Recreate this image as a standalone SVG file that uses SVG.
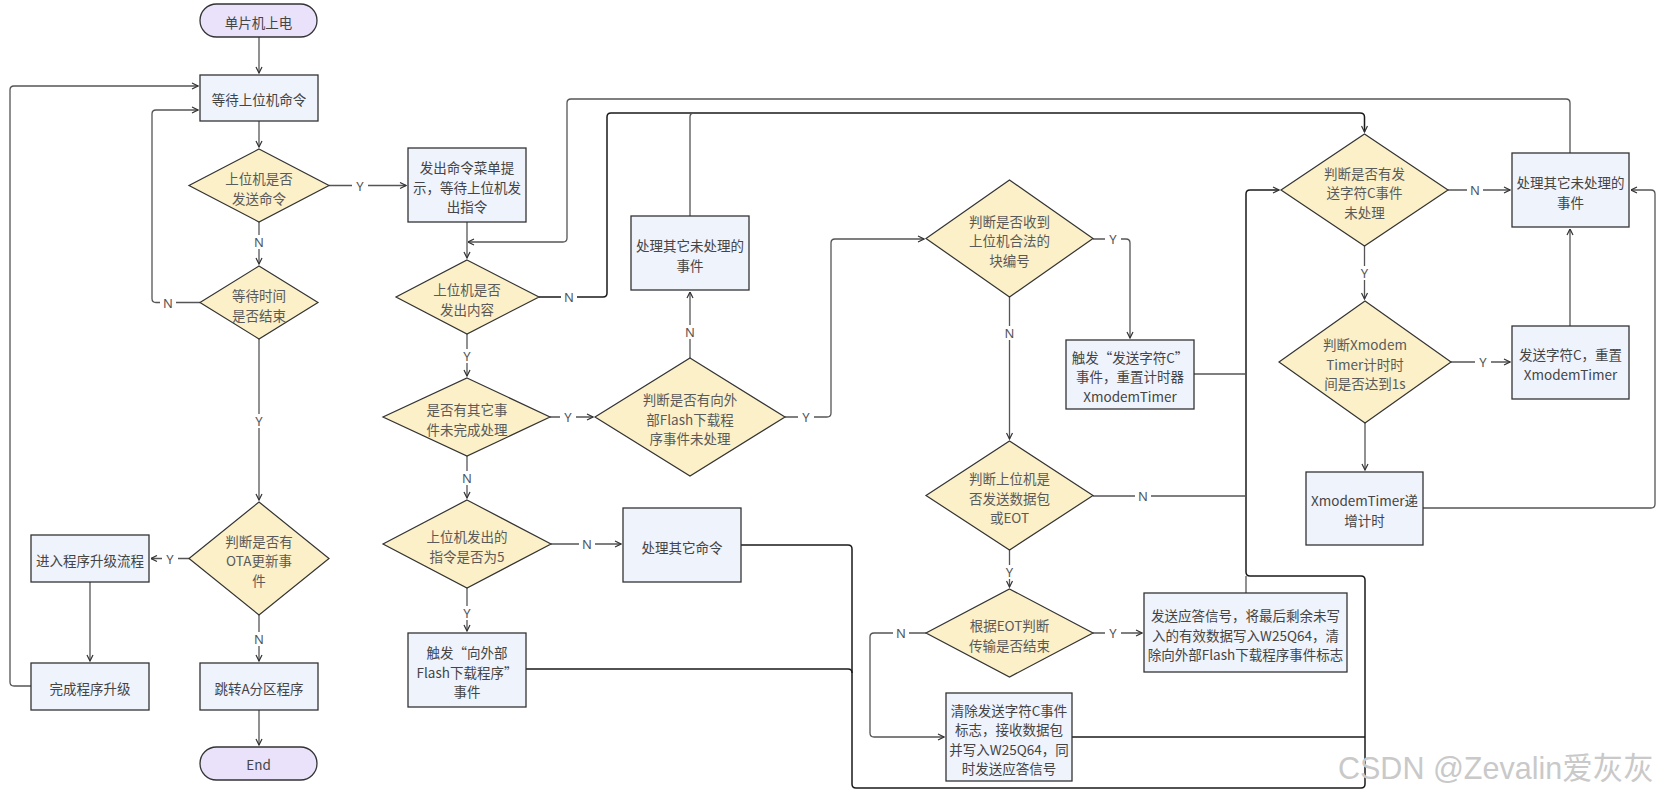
<svg xmlns="http://www.w3.org/2000/svg" width="1664" height="799" viewBox="0 0 1664 799">
<defs>
<style>
.box{fill:#eff3fc;stroke:#333;stroke-width:1.3}
.dia{fill:#fbf0c8;stroke:#333;stroke-width:1.2}
.pill{fill:#e9e2fa;stroke:#333;stroke-width:1.3}
.t{font-family:"Noto Sans CJK SC","Noto Sans",sans-serif;font-size:13.5px;fill:#444;text-anchor:middle;dominant-baseline:central}
.dt{fill:#5a5a5a}
.c{fill:none;stroke:#555;stroke-width:1.3}
.k{fill:none;stroke:#1a1a1a;stroke-width:1.5}
.lb rect{fill:#fff}
.lb text{font-family:"Noto Sans","Noto Sans CJK SC",sans-serif;font-size:13px;fill:#555;text-anchor:middle;dominant-baseline:central}
.wm{font-family:"Liberation Sans","Noto Sans CJK SC",sans-serif;font-size:30.5px;fill:#c9c9c9}
</style>
<marker id="a" viewBox="0 0 8 8" refX="7.5" refY="4" markerWidth="8" markerHeight="8" markerUnits="userSpaceOnUse" orient="auto">
<path d="M1.5,1 L7.5,4 L1.5,7" fill="none" stroke="#333" stroke-width="1.2"/>
</marker>
</defs>
<rect width="1664" height="799" fill="#fff"/>

<g id="connectors">
<path class="c" d="M259,37 V73" marker-end="url(#a)"/>
<path class="c" d="M259,121 V147" marker-end="url(#a)"/>
<path class="c" d="M329,185.5 H406" marker-end="url(#a)"/>
<path class="c" d="M259,222 V264" marker-end="url(#a)"/>
<path class="c" d="M200,302.5 H156 Q152,302.5 152,298.5 V114 Q152,110 156,110 H198" marker-end="url(#a)"/>
<path class="c" d="M259,339 V500" marker-end="url(#a)"/>
<path class="c" d="M189,558.5 H151" marker-end="url(#a)"/>
<path class="c" d="M90,582 V661" marker-end="url(#a)"/>
<path class="c" d="M31,686 H14 Q10,686 10,682 V90 Q10,86 14,86 H198" marker-end="url(#a)"/>
<path class="c" d="M259,615 V661" marker-end="url(#a)"/>
<path class="c" d="M259,710 V745" marker-end="url(#a)"/>
<path class="c" d="M467,222 V258" marker-end="url(#a)"/>
<path class="c" d="M1570,153 V103 Q1570,99 1566,99 H571 Q567,99 567,103 V238 Q567,242 563,242 H468" marker-end="url(#a)"/>
<path class="k" d="M539,297 H603 Q607,297 607,293 V117 Q607,113 611,113 H1360 Q1364.5,113 1364.5,117 V132" marker-end="url(#a)"/>
<path class="c" d="M690,216 V117 Q690,113 694,113"/>
<path class="c" d="M467,334 V376" marker-end="url(#a)"/>
<path class="c" d="M550,417 H593" marker-end="url(#a)"/>
<path class="c" d="M467,456 V498" marker-end="url(#a)"/>
<path class="c" d="M690,358 V292" marker-end="url(#a)"/>
<path class="c" d="M785,417 H827 Q831,417 831,413 V243 Q831,239 835,239 H924" marker-end="url(#a)"/>
<path class="c" d="M551,544 H621" marker-end="url(#a)"/>
<path class="c" d="M467,588 V631" marker-end="url(#a)"/>
<path class="k" d="M741,545 H848 Q852,545 852,549 V784 Q852,788 856,788 H1361 Q1365,788 1365,784 V580 Q1365,576 1361,576 H1250 Q1246,576 1246,572 V194 Q1246,190 1250,190 H1279" marker-end="url(#a)"/>
<path class="k" d="M526,669 H848 Q852,669 852,673"/>
<path class="k" d="M1072,737 H1365"/>
<path class="c" d="M1246,593 V576"/>
<path class="c" d="M1194,374 H1246"/>
<path class="c" d="M1093,496 H1246"/>
<path class="c" d="M1093,239 H1126 Q1130,239 1130,243 V338" marker-end="url(#a)"/>
<path class="c" d="M1009.5,297 V439" marker-end="url(#a)"/>
<path class="c" d="M1009.5,550 V587" marker-end="url(#a)"/>
<path class="c" d="M1093,633 H1142" marker-end="url(#a)"/>
<path class="c" d="M926,633 H874 Q870,633 870,637 V733 Q870,737 874,737 H944" marker-end="url(#a)"/>
<path class="c" d="M1448,190 H1510" marker-end="url(#a)"/>
<path class="c" d="M1364.5,246 V299" marker-end="url(#a)"/>
<path class="c" d="M1451,362 H1510" marker-end="url(#a)"/>
<path class="c" d="M1570,326 V229" marker-end="url(#a)"/>
<path class="c" d="M1365,423 V470" marker-end="url(#a)"/>
<path class="c" d="M1423,508 H1651 Q1655,508 1655,504 V194 Q1655,190 1651,190 H1631" marker-end="url(#a)"/>

<g class="lb">
<rect x="352" y="178.5" width="16" height="14"/><text x="360" y="185.5">Y</text>
<rect x="251" y="235" width="16" height="14"/><text x="259" y="242">N</text>
<rect x="160" y="295.5" width="16" height="14"/><text x="168" y="302.5">N</text>
<rect x="251" y="414" width="16" height="14"/><text x="259" y="421">Y</text>
<rect x="162" y="551.5" width="16" height="14"/><text x="170" y="558.5">Y</text>
<rect x="251" y="632" width="16" height="14"/><text x="259" y="639">N</text>
<rect x="561" y="290" width="16" height="14"/><text x="569" y="297">N</text>
<rect x="459" y="349" width="16" height="14"/><text x="467" y="356">Y</text>
<rect x="560" y="410" width="16" height="14"/><text x="568" y="417">Y</text>
<rect x="459" y="471" width="16" height="14"/><text x="467" y="478">N</text>
<rect x="682" y="325" width="16" height="14"/><text x="690" y="332">N</text>
<rect x="798" y="410" width="16" height="14"/><text x="806" y="417">Y</text>
<rect x="579" y="537" width="16" height="14"/><text x="587" y="544">N</text>
<rect x="459" y="606" width="16" height="14"/><text x="467" y="613">Y</text>
<rect x="1105" y="232" width="16" height="14"/><text x="1113" y="239">Y</text>
<rect x="1001.5" y="326" width="16" height="14"/><text x="1009.5" y="333">N</text>
<rect x="1135" y="489" width="16" height="14"/><text x="1143" y="496">N</text>
<rect x="1001.5" y="565" width="16" height="14"/><text x="1009.5" y="572">Y</text>
<rect x="1105" y="626" width="16" height="14"/><text x="1113" y="633">Y</text>
<rect x="893" y="626" width="16" height="14"/><text x="901" y="633">N</text>
<rect x="1467" y="183" width="16" height="14"/><text x="1475" y="190">N</text>
<rect x="1356.5" y="266" width="16" height="14"/><text x="1364.5" y="273">Y</text>
<rect x="1475" y="355" width="16" height="14"/><text x="1483" y="362">Y</text>
</g>
</g>

<g id="n1"><rect class="pill" x="200" y="4" width="117" height="33" rx="16.5"/><text class="t" x="258.5" y="21.5">单片机上电</text></g>
<g id="n2"><rect class="box" x="200" y="75" width="118" height="46"/><text class="t" x="259" y="99">等待上位机命令</text></g>
<g id="n3"><polygon class="dia" points="259,149 329,185.5 259,222 189,185.5"/><text class="t dt" x="259" y="178">上位机是否</text><text class="t dt" x="259" y="197.5">发送命令</text></g>
<g id="n4"><polygon class="dia" points="259,266 318,302.5 259,339 200,302.5"/><text class="t dt" x="259" y="295">等待时间</text><text class="t dt" x="259" y="314.5">是否结束</text></g>
<g id="n5"><polygon class="dia" points="259,502 329,558.5 259,615 189,558.5"/><text class="t dt" x="259" y="540.5">判断是否有</text><text class="t dt" x="259" y="560">OTA更新事</text><text class="t dt" x="259" y="579.5">件</text></g>
<g id="n6"><rect class="box" x="31" y="535" width="118" height="47"/><text class="t" x="90" y="559.5">进入程序升级流程</text></g>
<g id="n7"><rect class="box" x="31" y="663" width="118" height="47"/><text class="t" x="90" y="687.5">完成程序升级</text></g>
<g id="n8"><rect class="box" x="200" y="663" width="118" height="47"/><text class="t" x="259" y="687.5">跳转A分区程序</text></g>
<g id="n9"><rect class="pill" x="200" y="747" width="117" height="33" rx="16.5"/><text class="t" x="258.5" y="764">End</text></g>
<g id="n10"><rect class="box" x="408" y="148" width="118" height="74"/><text class="t" x="467" y="167">发出命令菜单提</text><text class="t" x="467" y="186.5">示，等待上位机发</text><text class="t" x="467" y="206">出指令</text></g>
<g id="n11"><polygon class="dia" points="467,260 539,297 467,334 396,297"/><text class="t dt" x="467" y="289">上位机是否</text><text class="t dt" x="467" y="308.5">发出内容</text></g>
<g id="n12"><polygon class="dia" points="467,378 550,417 467,456 383,417"/><text class="t dt" x="467" y="409">是否有其它事</text><text class="t dt" x="467" y="428.5">件未完成处理</text></g>
<g id="n13"><polygon class="dia" points="467,500 551,544 467,588 383,544"/><text class="t dt" x="467" y="536">上位机发出的</text><text class="t dt" x="467" y="555.5">指令是否为5</text></g>
<g id="n14"><rect class="box" x="408" y="633" width="118" height="74"/><text class="t" x="467" y="652">触发“向外部</text><text class="t" x="467" y="671.5">Flash下载程序”</text><text class="t" x="467" y="691">事件</text></g>
<g id="n15"><rect class="box" x="631" y="216" width="118" height="74"/><text class="t" x="690" y="245">处理其它未处理的</text><text class="t" x="690" y="264.5">事件</text></g>
<g id="n16"><polygon class="dia" points="690,358 785,417 690,476 595,417"/><text class="t dt" x="690" y="399">判断是否有向外</text><text class="t dt" x="690" y="418.5">部Flash下载程</text><text class="t dt" x="690" y="438">序事件未处理</text></g>
<g id="n17"><rect class="box" x="623" y="508" width="118" height="74"/><text class="t" x="682" y="546.5">处理其它命令</text></g>
<g id="n18"><polygon class="dia" points="1009.5,180 1093,238.5 1009.5,297 926,238.5"/><text class="t dt" x="1009.5" y="220.5">判断是否收到</text><text class="t dt" x="1009.5" y="240">上位机合法的</text><text class="t dt" x="1009.5" y="259.5">块编号</text></g>
<g id="n19"><rect class="box" x="1066" y="340" width="128" height="69"/><text class="t" x="1130" y="356.5">触发“发送字符C”</text><text class="t" x="1130" y="376">事件，重置计时器</text><text class="t" x="1130" y="395.5">XmodemTimer</text></g>
<g id="n20"><polygon class="dia" points="1009.5,441 1093,495.5 1009.5,550 926,495.5"/><text class="t dt" x="1009.5" y="478">判断上位机是</text><text class="t dt" x="1009.5" y="497.5">否发送数据包</text><text class="t dt" x="1009.5" y="517">或EOT</text></g>
<g id="n21"><polygon class="dia" points="1009.5,589 1093,633 1009.5,677 926,633"/><text class="t dt" x="1009.5" y="625">根据EOT判断</text><text class="t dt" x="1009.5" y="644.5">传输是否结束</text></g>
<g id="n22"><rect class="box" x="1144" y="593" width="203" height="79"/><text class="t" x="1245.5" y="615">发送应答信号，将最后剩余未写</text><text class="t" x="1245.5" y="634.5">入的有效数据写入W25Q64，清</text><text class="t" x="1245.5" y="654">除向外部Flash下载程序事件标志</text></g>
<g id="n23"><rect class="box" x="946" y="693" width="126" height="88"/><text class="t" x="1009" y="709.5">清除发送字符C事件</text><text class="t" x="1009" y="729">标志，接收数据包</text><text class="t" x="1009" y="748.5">并写入W25Q64，同</text><text class="t" x="1009" y="768">时发送应答信号</text></g>
<g id="n24"><polygon class="dia" points="1364.5,134 1448,190 1364.5,246 1281,190"/><text class="t dt" x="1364.5" y="172.5">判断是否有发</text><text class="t dt" x="1364.5" y="192">送字符C事件</text><text class="t dt" x="1364.5" y="211.5">未处理</text></g>
<g id="n25"><rect class="box" x="1512" y="153" width="117" height="74"/><text class="t" x="1570.5" y="182">处理其它未处理的</text><text class="t" x="1570.5" y="201.5">事件</text></g>
<g id="n26"><polygon class="dia" points="1365,301 1451,362 1365,423 1279,362"/><text class="t dt" x="1365" y="344">判断Xmodem</text><text class="t dt" x="1365" y="363.5">Timer计时时</text><text class="t dt" x="1365" y="383">间是否达到1s</text></g>
<g id="n27"><rect class="box" x="1512" y="326" width="117" height="73"/><text class="t" x="1570.5" y="354">发送字符C，重置</text><text class="t" x="1570.5" y="373.5">XmodemTimer</text></g>
<g id="n28"><rect class="box" x="1306" y="472" width="117" height="73"/><text class="t" x="1364.5" y="500">XmodemTimer递</text><text class="t" x="1364.5" y="519.5">增计时</text></g>

<text class="wm" x="1338" y="779">CSDN @Zevalin爱灰灰</text>
</svg>
